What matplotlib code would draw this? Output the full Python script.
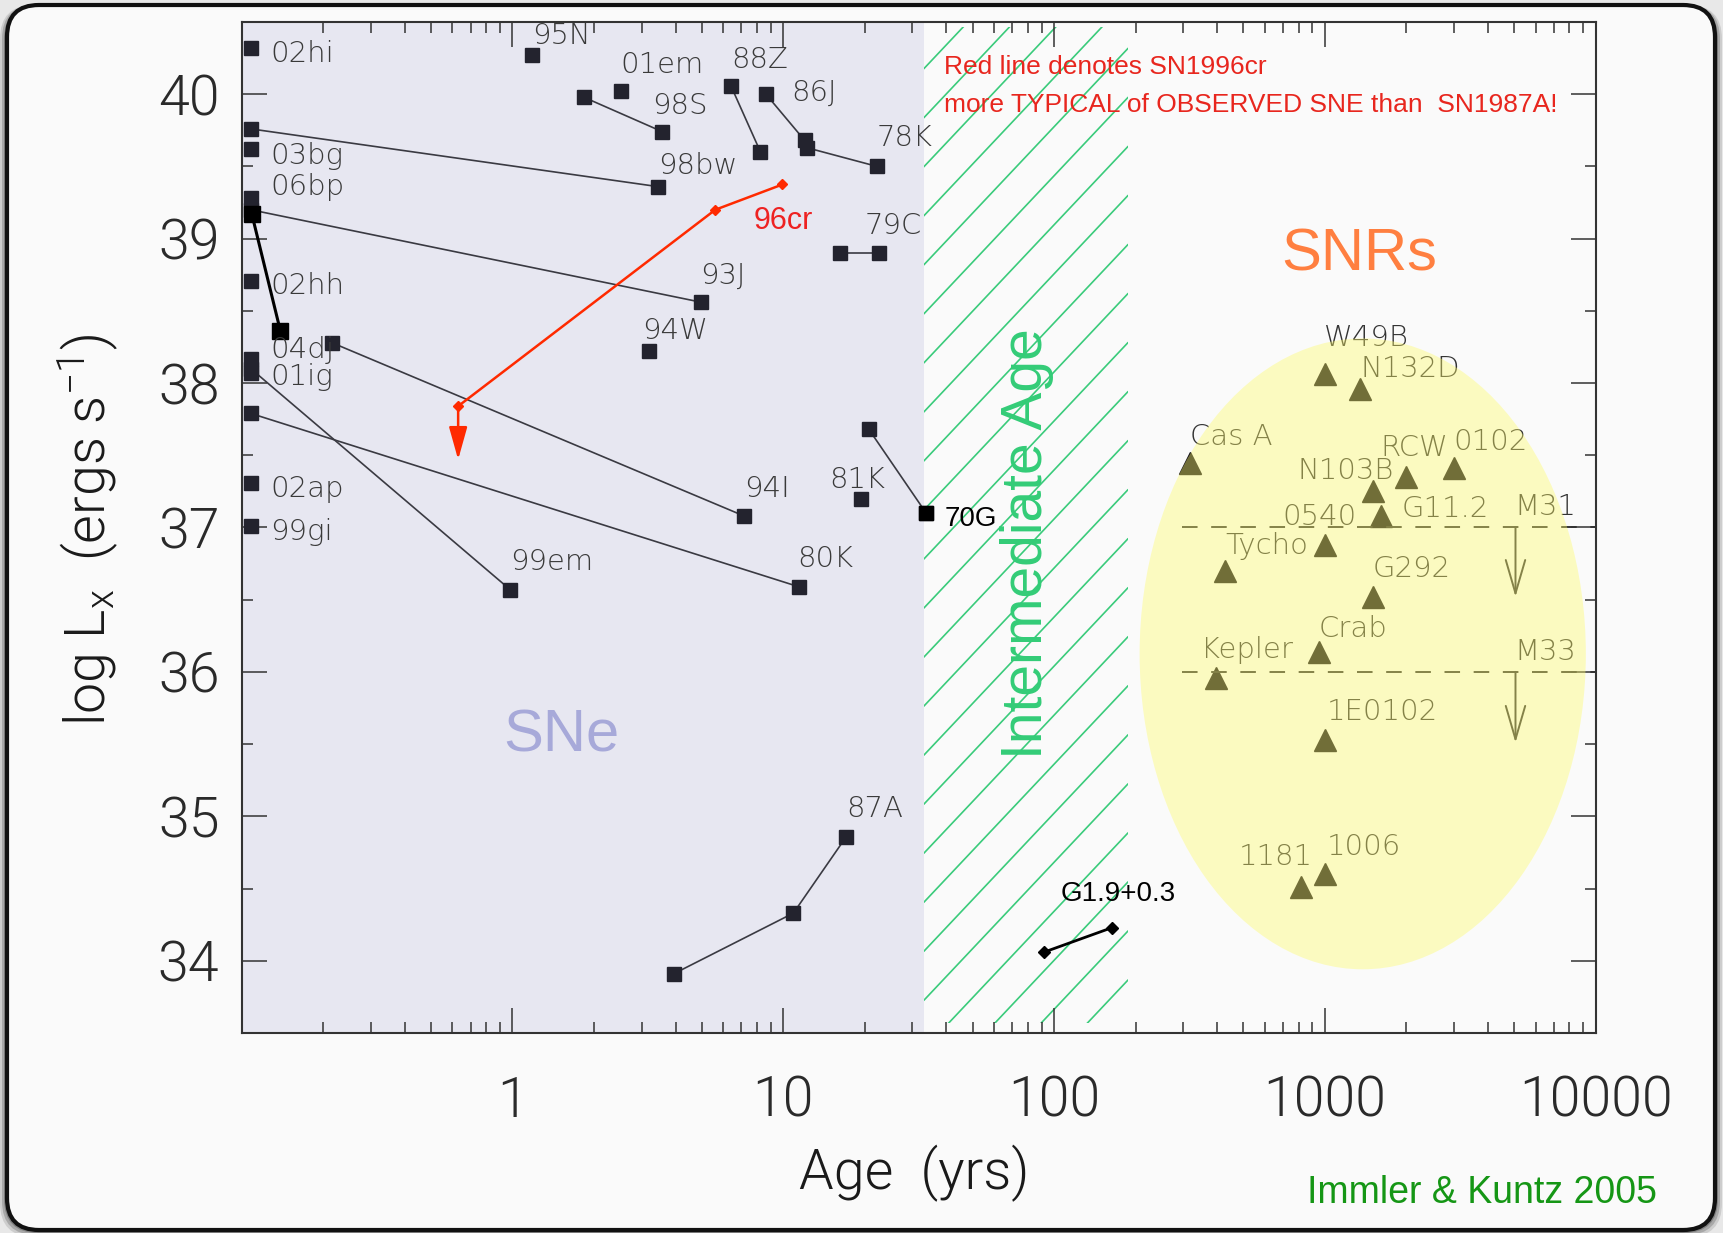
import numpy as np
import matplotlib.pyplot as plt
from matplotlib.patches import Ellipse, Rectangle, FancyBboxPatch
from matplotlib.collections import LineCollection
from matplotlib.transforms import IdentityTransform
from matplotlib.ticker import FixedLocator, FixedFormatter, LogLocator, MultipleLocator, NullFormatter

plt.rcParams['font.family'] = ['Roboto Light', 'Lato Light', 'Open Sans Light', 'Roboto']
plt.rcParams['font.weight'] = 300
plt.rcParams['mathtext.default'] = 'regular'

# ---------------- supernovae: age (yr), log Lx (erg/s) ----------------
# single epoch detections
sn_ages = [0.108, 0.108, 0.108, 0.108, 0.108, 0.108, 0.108, 0.108, 1.18, 2.51, 3.2, 19.3]
sn_lx = [40.32, 39.62, 39.28, 38.71, 38.17, 38.07, 37.31, 37.01, 40.27, 40.02, 38.22, 37.20]

# light curves with more than one epoch
track_ages = [[0.108, 3.45], [0.108, 4.97], [0.215, 7.16], [0.108, 0.98],
              [0.108, 11.4], [1.83, 3.58], [6.4, 8.24], [8.63, 12.0, 12.2, 22.2],
              [16.2, 22.6], [20.7, 33.7], [3.94, 10.9, 17.1]]
track_lx = [[39.76, 39.36], [39.20, 38.56], [38.28, 37.08], [38.10, 36.57],
            [37.79, 36.59], [39.98, 39.74], [40.06, 39.60], [40.0, 39.68, 39.63, 39.50],
            [38.90, 38.90], [37.68, 37.10], [33.91, 34.33, 34.86]]

# SN 2006bp
bp_ages = [0.109, 0.139]
bp_lx = [39.17, 38.36]

# SN 1996cr + upper limit
cr_ages = [0.63, 5.61, 9.93]
cr_lx = [37.84, 39.20, 39.375]
cr_limit = 37.47

# last epoch of SN 1970G
g70_age = 33.7
g70_lx = 37.10

sn_names = ['02hi', '03bg', '06bp', '02hh', '04dj', '01ig', '02ap', '99gi', '95N', '01em',
            '98S', '88Z', '86J', '78K', '98bw', '79C', '93J', '94W', '94I', '81K',
            '99em', '80K', '87A']
sn_label_age = [0.1275, 0.1275, 0.1275, 0.1275, 0.1275, 0.1275, 0.1275, 0.1275, 1.179, 2.51,
                3.265, 6.40, 10.69, 22.2, 3.45, 20.0, 4.92, 3.0, 7.16, 14.8,
                0.978, 11.3, 17.1]
sn_label_lx = [40.28, 39.57, 39.36, 38.67, 38.23, 38.04, 37.27, 36.97, 40.40, 40.20,
               39.92, 40.24, 40.01, 39.70, 39.50, 39.09, 38.74, 38.36, 37.27, 37.33,
               36.76, 36.78, 35.05]

# ---------------- supernova remnants ----------------
snr_names = ['W49B', 'N132D', 'Cas A', 'RCW', '0102', 'N103B', 'G11.2', '0540', 'Tycho',
             'G292', 'Crab', 'Kepler', '1E0102', '1006', '1181']
snr_ages = [1004, 1352, 318, 1987, 2994, 1500, 1617, 1004, 428, 1500, 948, 395, 1004, 1004, 817]
snr_lx = [38.06, 37.96, 37.45, 37.35, 37.41, 37.25, 37.08, 36.88, 36.70, 36.52, 36.14,
          35.96, 35.53, 34.60, 34.51]
snr_label_age = [994.5, 1353, 318, 1601, 2994, 795, 1914, 697, 428, 1500, 948, 349, 1013, 1013, 480]
snr_label_lx = [38.31, 38.10, 37.63, 37.55, 37.59, 37.39, 37.13, 37.07, 36.87, 36.71, 36.30,
                36.15, 35.72, 34.79, 34.72]

# galaxy upper limits
limit_names = ['M31', 'M33']
limit_lx = [37.0, 36.0]
limit_arrow_to = [36.52, 35.51]
limit_start_age = 296
limit_arrow_age = 5060
limit_label_age = 5012
limit_label_lx = [37.14, 36.14]

# G1.9+0.3
g19_ages = [91.9, 164]
g19_lx = [34.06, 34.23]

# age ranges of the shaded zones
sne_age_max = 33.0
int_age_max = 188.0

W, H = 1723, 1233
fig = plt.figure(figsize=(W / 100, H / 100), dpi=100)
fig.patch.set_facecolor('#E8E8E8')

# rounded card with a soft shadow
for grow, a in [(7, 0.18), (5, 0.3), (3, 0.45)]:
    fig.add_artist(FancyBboxPatch((7 - grow, 3 - grow), 1708 + 2 * grow, 1225 + grow,
                                  boxstyle='round,pad=0,rounding_size=34',
                                  transform=IdentityTransform(), fc='#555555', ec='none',
                                  alpha=a, zorder=-6))
fig.add_artist(FancyBboxPatch((7, 3), 1708, 1225, boxstyle='round,pad=0,rounding_size=32',
                              transform=IdentityTransform(), fc='#FAFAFA', ec='#111111',
                              lw=3, zorder=-5))

ax = fig.add_axes([0.14028, 0.16221, 0.78578, 0.81995])
ax.set_facecolor('#FAFAFA')
ax.set_xscale('log')
ax.set_xlim(0.1, 1e4)
ax.set_ylim(33.5, 40.5)

# SN zone
ax.axvspan(0.1, sne_age_max, color='#E7E7F1', zorder=0.5, lw=0)

# hatched intermediate age zone, drawn in axes fraction so the lines stay straight
xb0 = (np.log10(sne_age_max) + 1) / 5
xb1 = (np.log10(int_age_max) + 1) / 5
hatch_slope = 1.42
hatch_step = 0.0485
y_start = 0.8566
segs = []
for k in range(-25, 6):
    y0 = y_start + k * hatch_step
    segs.append([(xb0, y0), (xb1, y0 + hatch_slope * (xb1 - xb0))])
clip = Rectangle((xb0, 0.01), xb1 - xb0, 0.985, transform=ax.transAxes)
hatch = LineCollection(segs, colors='#3ACB7B', linewidths=1.2, transform=ax.transAxes, zorder=1)
ax.add_collection(hatch)
hatch.set_clip_path(clip)

# SN light curves
sq = dict(marker='s', ms=9.5, mfc='#23232E', mec='#23232E')
for ages, lx in zip(track_ages, track_lx):
    ax.plot(ages, lx, color='#3A3A42', lw=1.2, zorder=2, **sq)
ax.plot(sn_ages, sn_lx, ls='none', zorder=2, **sq)
ax.plot(bp_ages, bp_lx, color='black', lw=2.2, marker='s', ms=11, mfc='black', mec='black', zorder=2.1)
ax.plot([g70_age], [g70_lx], ls='none', marker='s', ms=9.5, mfc='black', mec='black', zorder=2.1)

for name, a, l in zip(sn_names, sn_label_age, sn_label_lx):
    ax.text(a, l, name, fontsize=21, family='DejaVu Sans', weight=200, color='#3A3A3A',
            ha='left', va='center', zorder=3)
ax.text(39.5, 37.06, '70G', fontsize=20, family='Liberation Sans', color='black',
        ha='left', va='center', zorder=3)

# SN 1996cr
red = '#FF2A00'
ax.plot(cr_ages, cr_lx, color=red, lw=1.8, marker='D', ms=5, mfc=red, mec=red, zorder=2.3)
ax.annotate('', xy=(cr_ages[0], cr_limit), xytext=(cr_ages[0], cr_lx[0]),
            arrowprops=dict(arrowstyle='-|>,head_length=1.0,head_width=0.28', color=red,
                            lw=1.8, mutation_scale=20, shrinkA=0, shrinkB=0), zorder=2.3)
ax.text(7.78, 39.12, '96cr', fontsize=22, family='Liberation Sans', color='#EE2222',
        ha='left', va='center', zorder=3)

# G1.9+0.3
ax.plot(g19_ages, g19_lx, color='black', lw=2, marker='D', ms=6, mfc='black', mec='black', zorder=2)
ax.text(105.6, 34.46, 'G1.9+0.3', fontsize=20, family='Liberation Sans', color='black',
        ha='left', va='center', zorder=3)

# supernova remnants
ax.plot(snr_ages, snr_lx, ls='none', marker='^', ms=16, mfc='#141218', mec='#141218', zorder=2)
for name, a, l in zip(snr_names, snr_label_age, snr_label_lx):
    ax.text(a, l, name, fontsize=21, family='DejaVu Sans', weight=200, color='#333333',
            ha='left', va='center', zorder=2.2)

# M31 / M33 limits
for name, l, l_to, l_lab in zip(limit_names, limit_lx, limit_arrow_to, limit_label_lx):
    ax.plot([limit_start_age, 1e4], [l, l], color='#333333', lw=1.4, ls=(0, (8, 7)), zorder=2)
    ax.annotate('', xy=(limit_arrow_age, l_to), xytext=(limit_arrow_age, l),
                arrowprops=dict(arrowstyle='->,head_length=1.2,head_width=0.35', color='#333333',
                                lw=1.4, mutation_scale=20, shrinkA=0, shrinkB=0), zorder=2)
    ax.text(limit_label_age, l_lab, name, fontsize=21, family='DejaVu Sans', weight=200,
            color='#333333', ha='left', va='center', zorder=2.2)

# translucent yellow SNR region
ax.add_patch(Ellipse((0.828, 0.375), 0.3296, 0.624, transform=ax.transAxes,
                     fc='#FFFA69', ec='none', alpha=0.4, zorder=2.4))

# zone titles and note
ax.text(0.2363, 0.2935, 'SNe', transform=ax.transAxes, fontsize=43, family='Liberation Sans',
        color='#A7A9D9', ha='center', va='center', zorder=3)
ax.text(0.8255, 0.7695, 'SNRs', transform=ax.transAxes, fontsize=43, family='Liberation Sans',
        color='#FF7F40', ha='center', va='center', zorder=3)
ax.text(0.580, 0.4837, 'Intermediate Age', transform=ax.transAxes, fontsize=41,
        family='Liberation Sans', color='#33CC77', rotation=90, ha='center', va='center', zorder=3)
ax.text(0.519, 0.955, 'Red line denotes SN1996cr', transform=ax.transAxes, fontsize=19,
        family='Liberation Sans', color='#E8261E', ha='left', va='center', zorder=3)
ax.text(0.519, 0.918, 'more TYPICAL of OBSERVED SNE than  SN1987A!', transform=ax.transAxes,
        fontsize=19, family='Liberation Sans', color='#E8261E', ha='left', va='center', zorder=3)

# axes styling
ax.xaxis.set_major_locator(FixedLocator([0.1, 1, 10, 100, 1000, 10000]))
ax.xaxis.set_major_formatter(FixedFormatter(['', '1', '10', '100', '1000', '10000']))
ax.xaxis.set_minor_locator(LogLocator(base=10, subs=np.arange(2, 10)))
ax.xaxis.set_minor_formatter(NullFormatter())
ax.yaxis.set_major_locator(MultipleLocator(1))
ax.yaxis.set_minor_locator(MultipleLocator(0.5))
ax.tick_params(which='both', direction='in', top=True, right=True, color='#333333', width=1.1)
ax.tick_params(which='major', length=18)
ax.tick_params(which='minor', length=8)
ax.tick_params(axis='x', which='major', labelsize=40, pad=30, labelcolor='#2A2A2A')
ax.tick_params(axis='y', which='major', labelsize=40, pad=16, labelcolor='#2A2A2A')
for sp in ax.spines.values():
    sp.set_color('#333333')
    sp.set_linewidth(1.5)
    sp.set_zorder(5)

fig.text(0.5305, 0.0482, 'Age  (yrs)', fontsize=40, color='#1A1A1A', ha='center', va='center')
fig.text(0.0511, 0.570, r'log L$_{x}$  (ergs s$^{-1}$)', fontsize=40, color='#1A1A1A',
         rotation=90, ha='center', va='center')
fig.text(0.8604, 0.0321, 'Immler & Kuntz 2005', fontsize=27, family='Liberation Sans',
         color='#159615', ha='center', va='center')

fig.savefig('out.png', dpi=100, facecolor=fig.get_facecolor())
